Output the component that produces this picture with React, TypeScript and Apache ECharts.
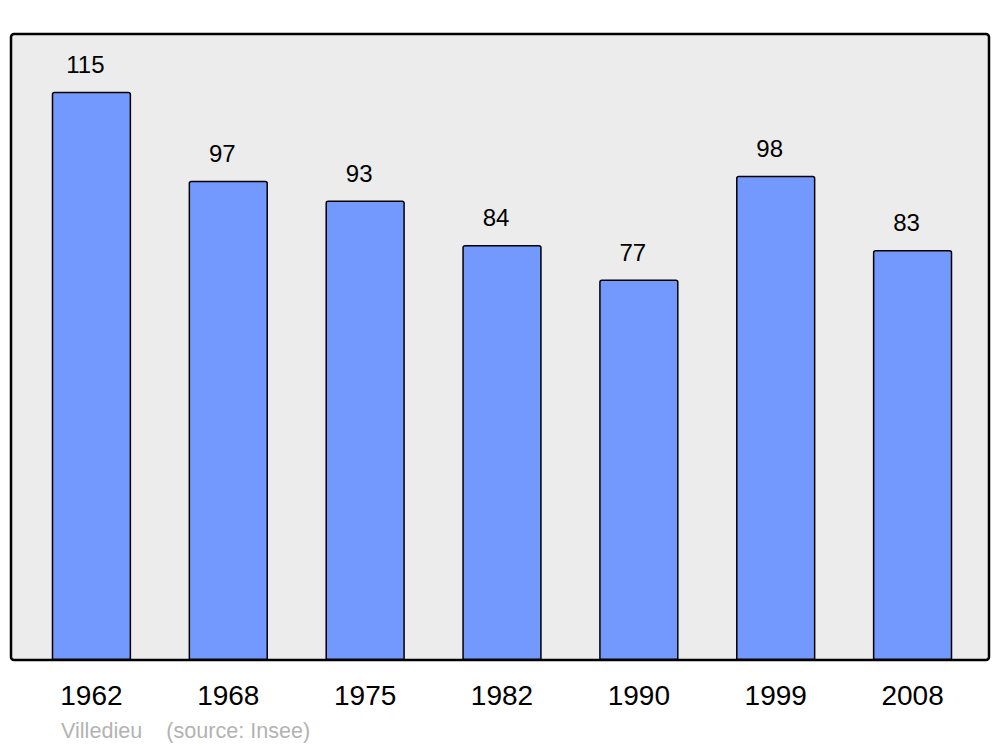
import React, { useEffect, useRef } from "react";
import * as echarts from "echarts";

const years = ["1962", "1968", "1975", "1982", "1990", "1999", "2008"];
const population = [115, 97, 93, 84, 77, 98, 83];
const sourceText = "Villedieu    (source: Insee)";

export default function App() {
  const ref = useRef<HTMLDivElement>(null);
  useEffect(() => {
    if (!ref.current) return;
    const chart = echarts.init(ref.current, null, { renderer: "svg" });
    chart.setOption({
      animation: false,
      backgroundColor: "#ffffff",
      graphic: [
        {
          type: "rect",
          z: -10,
          silent: true,
          shape: { x: 11, y: 34, width: 978, height: 626, r: 3 },
          style: { fill: "#ececec", stroke: "#000000", lineWidth: 2.5 },
        },
        {
          type: "text",
          x: 61,
          y: 730,
          style: {
            text: sourceText,
            fill: "#b3b3b3",
            font: '21.6px "Liberation Sans", Arial, sans-serif',
            verticalAlign: "middle",
            align: "left",
          },
        },
      ],
      grid: { left: 23, right: 19, top: 34, bottom: 87 },
      xAxis: {
        type: "category",
        data: years,
        axisLine: { show: false },
        axisTick: { show: false },
        axisLabel: {
          color: "#000",
          fontSize: 28,
          fontFamily: '"Liberation Sans", Arial, sans-serif',
          margin: 21,
        },
      },
      yAxis: {
        type: "value",
        min: 0,
        max: 126.7,
        show: false,
        splitLine: { show: false },
      },
      series: [
        {
          type: "bar",
          data: population,
          barWidth: "58%",
          itemStyle: {
            color: "#7399ff",
            borderColor: "#000000",
            borderWidth: 1.5,
            borderRadius: [2, 2, 0, 0],
          },
          label: {
            show: true,
            position: "top",
            distance: 15,
            offset: [-6, 0],
            color: "#000",
            fontSize: 24,
            fontFamily: '"Liberation Sans", Arial, sans-serif',
          },
        },
      ],
    });
    return () => chart.dispose();
  }, []);
  return <div ref={ref} style={{ width: 1000, height: 747, position: "absolute", left: 0, top: 0 }} />;
}
